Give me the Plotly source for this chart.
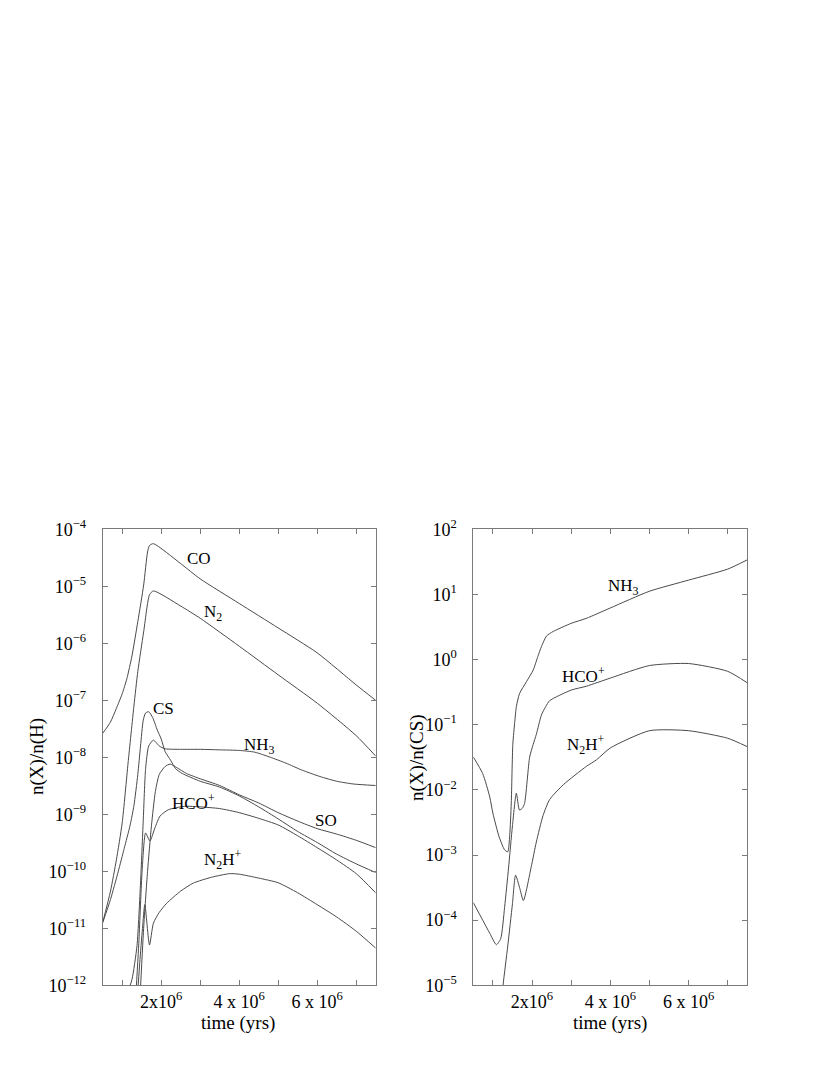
import plotly.graph_objects as go

# ---- left panel: fractional abundances n(X)/n(H), time in 1e6 yr ----
t_co = [0.5, 0.7, 0.85, 1.0, 1.12, 1.25, 1.4, 1.55, 1.65, 1.7, 1.8, 2.5, 3.0, 4.0, 5.0, 6.0, 7.0, 7.5]
co = [2.63e-8, 4.17e-8, 7.2e-8, 1.3e-7, 2.4e-7, 6.0e-7, 2.4e-6, 1.05e-5, 4.0e-5, 5.2e-5, 5.6e-5,
      2.5e-5, 1.35e-5, 5.0e-6, 1.86e-6, 6.8e-7, 1.86e-7, 1.0e-7]

t_n2 = [0.5, 0.7, 0.85, 1.0, 1.15, 1.3, 1.4, 1.55, 1.7, 1.8, 2.5, 3.0, 4.0, 5.0, 6.0, 7.0, 7.5]
n2 = [1.26e-11, 4.5e-11, 1.58e-10, 7.1e-10, 7.9e-9, 7.9e-8, 3.2e-7, 1.58e-6, 7.1e-6, 8.3e-6,
      4.5e-6, 2.75e-6, 8.9e-7, 2.8e-7, 8.9e-8, 2.4e-8, 1.05e-8]

t_cs = [0.5, 0.7, 0.9, 1.05, 1.2, 1.3, 1.4, 1.47, 1.54, 1.6, 1.68, 1.78, 1.9, 2.0, 2.1, 2.24, 2.37,
        2.54, 3.0, 3.5, 4.0, 4.5, 5.0, 5.5, 6.0, 6.5, 7.0, 7.5]
cs = [1.26e-11, 3.2e-11, 1.0e-10, 2.5e-10, 6.3e-10, 1.41e-9, 5.0e-9, 1.58e-8, 4.5e-8, 6.0e-8, 6.3e-8,
      5.0e-8, 3.0e-8, 2.1e-8, 1.26e-8, 8.9e-9, 6.3e-9, 5.2e-9, 3.8e-9, 3.0e-9, 2.1e-9, 1.35e-9,
      8.3e-10, 5.0e-10, 3.2e-10, 2.0e-10, 1.35e-10, 9.5e-11]

t_nh3 = [1.1, 1.25, 1.38, 1.47, 1.54, 1.6, 1.68, 1.8, 1.95, 2.1, 2.5, 3.0, 3.5, 4.0, 4.4, 4.8, 5.2,
         5.6, 6.07, 6.5, 6.93, 7.5]
nh3 = [6.3e-13, 1.26e-12, 5.0e-12, 6.3e-11, 7.9e-10, 6.3e-9, 1.58e-8, 2.0e-8, 1.58e-8, 1.41e-8,
       1.38e-8, 1.38e-8, 1.35e-8, 1.32e-8, 1.23e-8, 1.0e-8, 7.9e-9, 6.0e-9, 4.6e-9, 3.8e-9, 3.4e-9, 3.2e-9]

t_hco = [1.34, 1.43, 1.51, 1.6, 1.71, 1.84, 1.97, 2.18, 2.6, 3.0, 3.5, 4.0, 4.5, 5.0, 5.5, 6.0, 6.5, 7.0, 7.5]
hco = [5.0e-13, 6.3e-12, 1.0e-10, 4.7e-10, 3.4e-10, 5.8e-10, 9.3e-10, 1.2e-9, 1.38e-9, 1.35e-9,
       1.26e-9, 1.07e-9, 8.5e-10, 6.5e-10, 4.2e-10, 2.6e-10, 1.58e-10, 9.1e-11, 4.2e-11]

t_so = [1.45, 1.55, 1.65, 1.75, 1.85, 1.95, 2.1, 2.23, 2.4, 2.65, 3.0, 3.5, 4.0, 4.5, 5.0, 5.5, 6.0,
        6.5, 7.0, 7.5]
so = [5.0e-13, 1.0e-11, 1.0e-10, 6.3e-10, 2.5e-9, 5.0e-9, 6.9e-9, 7.6e-9, 6.6e-9, 5.2e-9, 4.2e-9,
      3.2e-9, 2.2e-9, 1.58e-9, 1.07e-9, 7.6e-10, 5.6e-10, 4.5e-10, 3.5e-10, 2.6e-10]

t_n2h = [1.38, 1.45, 1.52, 1.58, 1.7, 1.8, 1.95, 2.14, 2.5, 2.82, 3.3, 3.76, 4.0, 4.5, 5.0, 5.5, 6.0,
         6.5, 7.0, 7.5]
n2h = [5.0e-13, 2.5e-12, 1.0e-11, 2.6e-11, 5.1e-12, 1.23e-11, 1.9e-11, 2.75e-11, 4.5e-11, 6.2e-11,
       7.9e-11, 9.1e-11, 8.9e-11, 7.6e-11, 6.3e-11, 4.2e-11, 2.6e-11, 1.58e-11, 8.9e-12, 4.5e-12]

# ---- right panel: ratios to CS ----
t_r_nh3 = [0.5, 0.74, 0.92, 1.0, 1.16, 1.3, 1.38, 1.43, 1.47, 1.51, 1.56, 1.6, 1.68, 1.86, 2.03,
           2.15, 2.24, 2.37, 2.54, 3.0, 3.39, 4.0, 5.0, 6.0, 7.0, 7.5]
r_nh3 = [3.2e-2, 1.78e-2, 7.8e-3, 4.4e-3, 1.9e-3, 1.2e-3, 1.12e-3, 2.0e-3, 6.3e-3, 5.0e-2, 0.112,
         0.19, 0.30, 0.46, 0.69, 1.12, 1.58, 2.3, 2.7, 3.6, 4.3, 6.2, 11.2, 16.6, 24.5, 34.0]

t_r_hco = [0.5, 0.74, 0.92, 1.09, 1.2, 1.3, 1.4, 1.5, 1.6, 1.68, 1.75, 1.81, 1.94, 2.03, 2.11, 2.24,
           2.35, 2.45, 3.0, 3.39, 4.0, 5.0, 6.0, 7.0, 7.5]
r_hco = [1.86e-4, 1.0e-4, 6.3e-5, 4.2e-5, 5.2e-5, 1.58e-4, 6.3e-4, 2.8e-3, 8.9e-3, 4.9e-3, 5.2e-3,
         6.2e-3, 3.2e-2, 5.0e-2, 7.1e-2, 0.141, 0.19, 0.234, 0.34, 0.39, 0.52, 0.81, 0.87, 0.66, 0.44]

t_r_n2h = [1.2, 1.26, 1.38, 1.5, 1.58, 1.68, 1.78, 1.98, 2.11, 2.28, 2.45, 2.8, 3.39, 3.65, 4.0, 5.0,
           6.0, 7.0, 7.5]
r_n2h = [4.0e-6, 1.0e-5, 4.0e-5, 1.78e-4, 4.9e-4, 3.2e-4, 2.0e-4, 6.6e-4, 1.58e-3, 4.0e-3, 7.1e-3,
         1.2e-2, 2.3e-2, 2.9e-2, 4.4e-2, 8.1e-2, 8.1e-2, 6.2e-2, 4.6e-2]

x_ticks = [1e6, 2e6, 3e6, 4e6, 5e6, 6e6, 7e6]
x_ticktext = ["", "2x10<sup>6</sup>", "", "4 x 10<sup>6</sup>", "", "6 x 10<sup>6</sup>", ""]
y1_exp = [-12, -11, -10, -9, -8, -7, -6, -5, -4]
y2_exp = [-5, -4, -3, -2, -1, 0, 1, 2]

LINE = "#4a4a4a"
AXIS = "#7a7a7a"
FONT = "Liberation Serif"

# the page body has an 8px margin, so the figure is sized to fit inside it
W, H, OFF = 814, 1059, 8


def px(x):
    return (x - OFF) / W


def py(y):
    return 1 - (y - OFF) / H


fig = go.Figure()

left = [(t_co, co), (t_n2, n2), (t_cs, cs), (t_nh3, nh3), (t_hco, hco), (t_so, so), (t_n2h, n2h)]
for t, v in left:
    fig.add_trace(go.Scatter(x=[a * 1e6 for a in t], y=v, mode="lines",
                             line=dict(color=LINE, width=1, shape="spline", smoothing=0.6),
                             xaxis="x", yaxis="y", showlegend=False, hoverinfo="skip"))

right = [(t_r_nh3, r_nh3), (t_r_hco, r_hco), (t_r_n2h, r_n2h)]
for t, v in right:
    fig.add_trace(go.Scatter(x=[a * 1e6 for a in t], y=v, mode="lines",
                             line=dict(color=LINE, width=1, shape="spline", smoothing=0.6),
                             xaxis="x2", yaxis="y2", showlegend=False, hoverinfo="skip"))


def xaxis(domain, anchor):
    return dict(domain=domain, anchor=anchor, range=[0.5e6, 7.5e6],
                tickvals=x_ticks, ticktext=x_ticktext, ticks="inside", ticklen=5,
                tickcolor=AXIS, showline=True, linecolor=AXIS, linewidth=1, mirror="allticks",
                showgrid=False, zeroline=False, tickfont=dict(size=18, color="black"),
                ticklabelstandoff=0, automargin=False)


def yaxis(domain, anchor, exps):
    return dict(domain=domain, anchor=anchor, type="log", range=[exps[0], exps[-1]],
                tickvals=[10.0 ** e for e in exps],
                ticktext=["10<sup>%s</sup>" % str(e).replace("-", "\u2212") for e in exps],
                ticks="inside", ticklen=5, tickcolor=AXIS, showline=True, linecolor=AXIS,
                linewidth=1, mirror="allticks", showgrid=False, zeroline=False,
                tickfont=dict(size=18, color="black"), ticklabelstandoff=12, automargin=False)


ydom = [py(985.3), py(529.3)]

labels = [
    ("x", "y", 2.98e6, -4.51, "CO"),
    ("x", "y", 3.34e6, -5.47, "N<sub>2</sub>"),
    ("x", "y", 2.07e6, -7.15, "CS"),
    ("x", "y", 4.53e6, -7.80, "NH<sub>3</sub>"),
    ("x", "y", 2.82e6, -8.78, "HCO<sup>+</sup>"),
    ("x", "y", 6.23e6, -9.11, "SO"),
    ("x", "y", 3.59e6, -9.80, "N<sub>2</sub>H<sup>+</sup>"),
    ("x2", "y2", 4.33e6, 1.12, "NH<sub>3</sub>"),
    ("x2", "y2", 3.31e6, -0.24, "HCO<sup>+</sup>"),
    ("x2", "y2", 3.39e6, -1.30, "N<sub>2</sub>H<sup>+</sup>"),
]
annotations = [dict(xref=xr, yref=yr, x=x, y=y, text=s, showarrow=False,
                    xanchor="center", yanchor="middle",
                    font=dict(size=17, color="black")) for xr, yr, x, y, s in labels]

titles = [
    (238.3, 1023.3, "time (yrs)", 0),
    (610.0, 1023.3, "time (yrs)", 0),
    (37.0, 757.0, "n(X)/n(H)", -90),
    (417.0, 757.0, "n(X)/n(CS)", -90),
]
for x, y, s, ang in titles:
    annotations.append(dict(xref="paper", yref="paper", x=px(x), y=py(y), text=s, showarrow=False,
                            textangle=ang, xanchor="center", yanchor="middle",
                            font=dict(size=19, color="black")))

fig.update_layout(
    width=W, height=H,
    margin=dict(l=0, r=0, t=0, b=0),
    paper_bgcolor="white", plot_bgcolor="white",
    font=dict(family=FONT, color="black"),
    xaxis=xaxis([px(102.7), px(375.7)], "y"),
    yaxis=yaxis(ydom, "x", y1_exp),
    xaxis2=xaxis([px(473.3), px(747.3)], "y2"),
    yaxis2=yaxis(ydom, "x2", y2_exp),
    annotations=annotations,
    showlegend=False,
)

fig.write_html("out.html")
